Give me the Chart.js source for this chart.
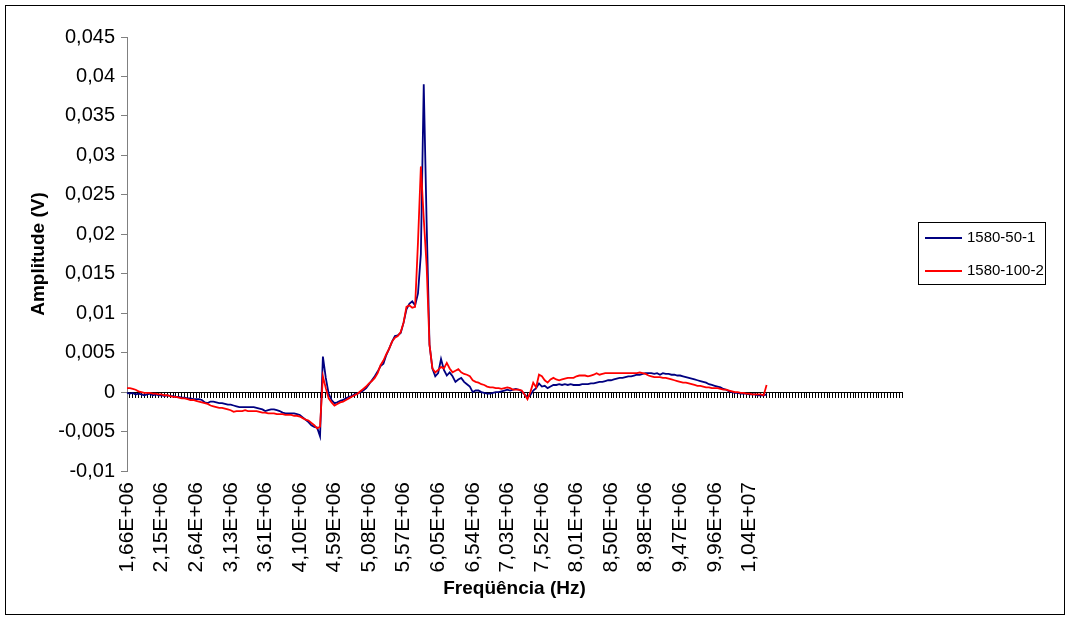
<!DOCTYPE html>
<html>
<head>
<meta charset="utf-8">
<script src="https://cdn.jsdelivr.net/npm/chart.js@4.4.1/dist/chart.umd.min.js"></script>
<style>
  html, body { margin: 0; padding: 0; background: #fff; }
  canvas { display: block; }
</style>
</head>
<body>
<canvas id="c" width="1070" height="621"></canvas>
<script>
// Tick labels shown on the category axis (one every 12 categories)
const tickLabels = ['1,66E+06','2,15E+06','2,64E+06','3,13E+06','3,61E+06','4,10E+06','4,59E+06',
  '5,08E+06','5,57E+06','6,05E+06','6,54E+06','7,03E+06','7,52E+06','8,01E+06','8,50E+06',
  '8,98E+06','9,47E+06','9,96E+06','1,04E+07'];
const labelEvery = 12;
const categoryCount = 270;

const seriesNames = ['1580-50-1', '1580-100-2'];
const seriesColors = ['#000080', '#FF0000'];

const serie1 = [
 -0.0001,-0.0002,-0.0001,-0.0003,-0.0002,-0.0003,-0.0004,-0.0003,-0.0002,-0.0004,
 -0.0003,-0.0004,-0.0004,-0.0005,-0.0004,-0.0005,-0.0005,-0.0006,-0.0006,-0.0007,
 -0.0007,-0.0008,-0.0008,-0.0009,-0.0009,-0.0009,-0.0010,-0.0013,-0.0014,-0.0012,
 -0.0012,-0.0013,-0.0014,-0.0014,-0.0015,-0.0016,-0.0016,-0.0017,-0.0018,-0.0019,
 -0.0019,-0.0019,-0.0019,-0.0019,-0.0019,-0.0020,-0.0021,-0.0022,-0.0024,-0.0023,
 -0.0022,-0.0022,-0.0023,-0.0024,-0.0026,-0.0027,-0.0027,-0.0027,-0.0027,-0.0028,
 -0.0029,-0.0032,-0.0035,-0.0038,-0.0042,-0.0044,-0.0045,-0.0056,0.0045,0.0018,
 -0.0002,-0.0010,-0.0014,-0.0013,-0.0011,-0.0010,-0.0008,-0.0006,-0.0005,-0.0003,
 -0.0002,0.0000,0.0002,0.0005,0.0010,0.0015,0.0020,0.0026,0.0033,0.0036,
 0.0047,0.0055,0.0064,0.0071,0.0072,0.0075,0.0088,0.0105,0.0112,0.0115,
 0.0110,0.0125,0.0175,0.0390,0.0215,0.0060,0.0030,0.0020,0.0024,0.0042,
 0.0028,0.0021,0.0025,0.0020,0.0013,0.0016,0.0018,0.0013,0.0010,0.0007,
 0.0000,0.0002,0.0002,0.0000,-0.0001,-0.0002,-0.0002,-0.0001,0.0000,0.0000,
 0.0001,0.0002,0.0003,0.0002,0.0003,0.0004,0.0003,0.0001,-0.0003,-0.0007,
 -0.0004,0.0002,0.0005,0.0011,0.0007,0.0008,0.0005,0.0007,0.0009,0.0009,
 0.0010,0.0009,0.0010,0.0009,0.0010,0.0009,0.0009,0.0009,0.0010,0.0010,
 0.0010,0.0011,0.0011,0.0012,0.0013,0.0013,0.0014,0.0015,0.0015,0.0016,
 0.0017,0.0018,0.0018,0.0019,0.0020,0.0020,0.0021,0.0022,0.0022,0.0023,
 0.0024,0.0024,0.0024,0.0023,0.0024,0.0022,0.0024,0.0023,0.0023,0.0022,
 0.0022,0.0021,0.0021,0.0020,0.0019,0.0018,0.0017,0.0016,0.0015,0.0014,
 0.0013,0.0012,0.0010,0.0009,0.0008,0.0007,0.0006,0.0004,0.0003,0.0001,
 0.0000,-0.0001,-0.0001,-0.0002,-0.0002,-0.0002,-0.0003,-0.0003,-0.0003,-0.0004,
 -0.0004,-0.0004,-0.0003
];

const serie2 = [
 0.0005,0.0005,0.0004,0.0003,0.0001,0.0000,-0.0001,-0.0001,-0.0001,-0.0002,
 -0.0002,-0.0003,-0.0003,-0.0004,-0.0004,-0.0005,-0.0006,-0.0006,-0.0007,-0.0008,
 -0.0008,-0.0009,-0.0010,-0.0010,-0.0011,-0.0012,-0.0013,-0.0014,-0.0015,-0.0017,
 -0.0018,-0.0019,-0.0020,-0.0020,-0.0021,-0.0022,-0.0023,-0.0025,-0.0024,-0.0024,
 -0.0024,-0.0023,-0.0024,-0.0024,-0.0024,-0.0024,-0.0025,-0.0026,-0.0026,-0.0027,
 -0.0027,-0.0027,-0.0028,-0.0028,-0.0028,-0.0029,-0.0029,-0.0029,-0.0030,-0.0030,
 -0.0031,-0.0033,-0.0035,-0.0036,-0.0039,-0.0042,-0.0046,-0.0044,0.0020,0.0005,
 -0.0008,-0.0013,-0.0017,-0.0015,-0.0013,-0.0012,-0.0010,-0.0008,-0.0006,-0.0004,
 -0.0002,0.0001,0.0004,0.0007,0.0011,0.0014,0.0018,0.0024,0.0034,0.0040,
 0.0048,0.0055,0.0064,0.0069,0.0071,0.0076,0.0088,0.0108,0.0110,0.0107,
 0.0108,0.0190,0.0286,0.0220,0.0160,0.0060,0.0030,0.0025,0.0028,0.0032,
 0.0030,0.0037,0.0030,0.0025,0.0027,0.0029,0.0025,0.0023,0.0022,0.0020,
 0.0015,0.0013,0.0012,0.0010,0.0009,0.0007,0.0006,0.0006,0.0005,0.0005,
 0.0004,0.0005,0.0006,0.0005,0.0003,0.0003,0.0003,0.0002,-0.0003,-0.0009,
 0.0000,0.0012,0.0006,0.0022,0.0020,0.0015,0.0012,0.0016,0.0018,0.0016,
 0.0015,0.0016,0.0017,0.0018,0.0018,0.0018,0.0020,0.0021,0.0021,0.0021,
 0.0020,0.0021,0.0022,0.0024,0.0022,0.0023,0.0024,0.0024,0.0024,0.0024,
 0.0024,0.0024,0.0024,0.0024,0.0024,0.0024,0.0024,0.0024,0.0025,0.0024,
 0.0023,0.0021,0.0020,0.0019,0.0019,0.0019,0.0018,0.0018,0.0017,0.0016,
 0.0015,0.0014,0.0013,0.0012,0.0012,0.0011,0.0010,0.0009,0.0008,0.0008,
 0.0007,0.0006,0.0006,0.0005,0.0005,0.0005,0.0004,0.0003,0.0003,0.0002,
 0.0001,0.0000,0.0000,-0.0001,-0.0001,-0.0002,-0.0002,-0.0003,-0.0003,-0.0003,
 -0.0003,-0.0004,0.0009
];

const yMin = -0.01, yMax = 0.045, yStep = 0.005;
const xTitle = 'Freqüência (Hz)';
const yTitle = 'Amplitude (V)';

// category list built from the tick labels (blank categories in between / after)
const categories = [];
for (let i = 0; i < categoryCount; i++) {
  const k = i / labelEvery;
  categories.push(Number.isInteger(k) && k < tickLabels.length ? tickLabels[k] : '');
}

const FONT = "'Liberation Sans', Arial, sans-serif";

const frameAndLegend = {
  id: 'frameAndLegend',
  afterDraw(chart) {
    const ctx = chart.ctx;
    ctx.save();
    ctx.strokeStyle = '#000';
    ctx.lineWidth = 1;
    ctx.strokeRect(5.5, 5.5, 1059, 609);
    // legend
    const bx = 918.5, by = 222.5, bw = 127, bh = 62;
    ctx.strokeRect(bx, by, bw, bh);
    ctx.font = '15px ' + FONT;
    ctx.textBaseline = 'middle';
    ctx.fillStyle = '#000';
    chart.data.datasets.forEach((ds, i) => {
      const y = 238 + i * 33;
      ctx.strokeStyle = ds.borderColor;
      ctx.lineWidth = 1.8;
      ctx.beginPath();
      ctx.moveTo(925, y);
      ctx.lineTo(962, y);
      ctx.stroke();
      ctx.fillText(ds.label, 967, y);
    });
    ctx.restore();
  }
};

new Chart(document.getElementById('c'), {
  type: 'line',
  data: {
    labels: categories,
    datasets: [
      { label: seriesNames[0], data: serie1, borderColor: seriesColors[0], backgroundColor: seriesColors[0],
        borderWidth: 1.8, pointRadius: 0, tension: 0, fill: false, order: 2 },
      { label: seriesNames[1], data: serie2, borderColor: seriesColors[1], backgroundColor: seriesColors[1],
        borderWidth: 1.8, pointRadius: 0, tension: 0, fill: false, order: 1 }
    ]
  },
  options: {
    responsive: false,
    animation: false,
    events: [],
    layout: { padding: { left: 0, top: 37, right: 168, bottom: 0 } },
    plugins: { legend: { display: false }, tooltip: { enabled: false } },
    scales: {
      x: {
        type: 'category',
        position: 'bottom',
        offset: false,
        grid: { display: false, drawTicks: false },
        border: { display: false },
        ticks: { autoSkip: false, maxRotation: 90, minRotation: 90, padding: 11, color: '#000',
                 font: { family: FONT, size: 21 } },
        title: { display: true, text: xTitle, color: '#000',
                 font: { family: FONT, size: 19, weight: 'bold' }, padding: { top: 0, bottom: 21 } },
        afterFit(s) { s.height = 150; }
      },
      xZero: {
        type: 'category',
        position: { y: 0 },
        offset: false,
        grid: { display: true, drawOnChartArea: false, drawTicks: true, tickLength: 5, color: '#000', lineWidth: 1 },
        border: { display: true, color: '#000', width: 1 },
        ticks: { display: false }
      },
      y: {
        type: 'linear',
        position: 'left',
        min: yMin, max: yMax,
        grid: { drawOnChartArea: false, drawTicks: true, tickLength: 6, color: '#808080' },
        border: { display: true, color: '#808080', width: 1 },
        ticks: { stepSize: yStep, padding: 6, color: '#000', font: { family: FONT, size: 20 },
                 callback: v => (Math.abs(v) < 1e-12 ? '0' : String(+v.toFixed(3)).replace('.', ',')) },
        title: { display: true, text: yTitle, color: '#000',
                 font: { family: FONT, size: 19, weight: 'bold' }, padding: { top: 27, bottom: 0 } },
        afterFit(s) { s.width = 127; }
      }
    }
  },
  plugins: [frameAndLegend]
});
</script>
</body>
</html>
